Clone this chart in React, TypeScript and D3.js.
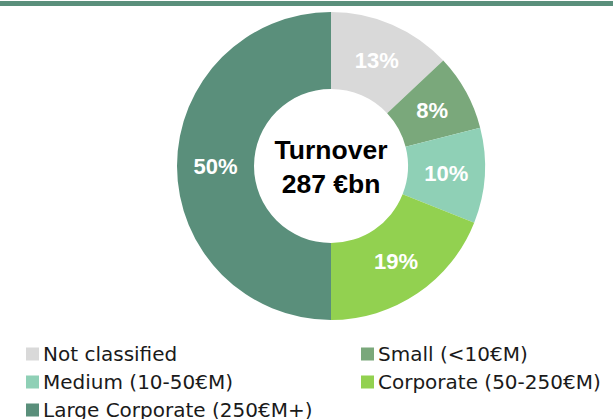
import React, { useEffect, useRef } from "react";
import * as d3 from "d3";

const categories = ["Not classified", "Small (<10€M)", "Medium (10-50€M)", "Corporate (50-250€M)", "Large Corporate (250€M+)"];
const shares = [13, 8, 10, 19, 50];
const colors = ["#d9d9d9", "#7aa87b", "#8fd0b6", "#92d150", "#5a8f7b"];
const centerLines = ["Turnover", "287 €bn"];

const W = 613;
const H = 419;

export default function App() {
  const ref = useRef<SVGSVGElement>(null);

  useEffect(() => {
    const svg = d3.select(ref.current);
    svg.selectAll("*").remove();
    const boldFont = "'Liberation Sans', Arial, sans-serif";
    const legendFont = "'DejaVu Sans', sans-serif";

    // green rule along the top
    svg.append("rect").attr("x", 0).attr("y", 1).attr("width", W).attr("height", 5).attr("fill", "#5a8f7b");

    const cx = 331, cy = 166, outerR = 154, innerR = 77;
    const data = categories.map((c, i) => ({ name: c, value: shares[i], color: colors[i] }));
    const pie = d3.pie<any>().value((d) => d.value).sort(null);
    const arc = d3.arc<any>().innerRadius(innerR).outerRadius(outerR);
    const g = svg.append("g").attr("transform", `translate(${cx},${cy})`);
    const arcs = pie(data);

    g.selectAll("path").data(arcs).join("path").attr("d", arc).attr("fill", (d) => d.data.color);

    g.selectAll("text.lbl").data(arcs).join("text").attr("class", "lbl")
      .attr("transform", (d) => `translate(${arc.centroid(d)})`)
      .attr("text-anchor", "middle").attr("dy", "0.36em")
      .attr("fill", "#fff").style("font-family", boldFont).style("font-weight", "bold").style("font-size", "22px")
      .text((d) => `${d.data.value}%`);

    g.selectAll("text.ctr").data(centerLines).join("text").attr("class", "ctr")
      .attr("x", 0).attr("y", (d, i) => (i === 0 ? -7 : 27))
      .attr("text-anchor", "middle").attr("fill", "#000")
      .style("font-family", boldFont).style("font-weight", "bold").style("font-size", "26.5px")
      .text((d) => d);

    const legendCol = d3.scaleOrdinal<number, number>().domain([0, 1]).range([26, 361]);
    const legendRow = d3.scaleLinear().domain([0, 1]).range([354, 382]);
    const lg = svg.append("g");
    data.forEach((d, i) => {
      const col = i % 2, row = Math.floor(i / 2);
      const x = legendCol(col), y = legendRow(row);
      lg.append("rect").attr("x", x).attr("y", y - 6.5).attr("width", 13).attr("height", 13).attr("fill", d.color);
      lg.append("text").attr("x", x + 17).attr("y", y).attr("dy", "0.36em")
        .attr("fill", "#1a1a1a").style("font-family", legendFont).style("font-size", "20px")
        .text(d.name);
    });
  }, []);

  return (
    <div style={{ position: "absolute", left: 0, top: 0 }}>
      <svg ref={ref} width={W} height={H} style={{ display: "block" }} />
    </div>
  );
}
